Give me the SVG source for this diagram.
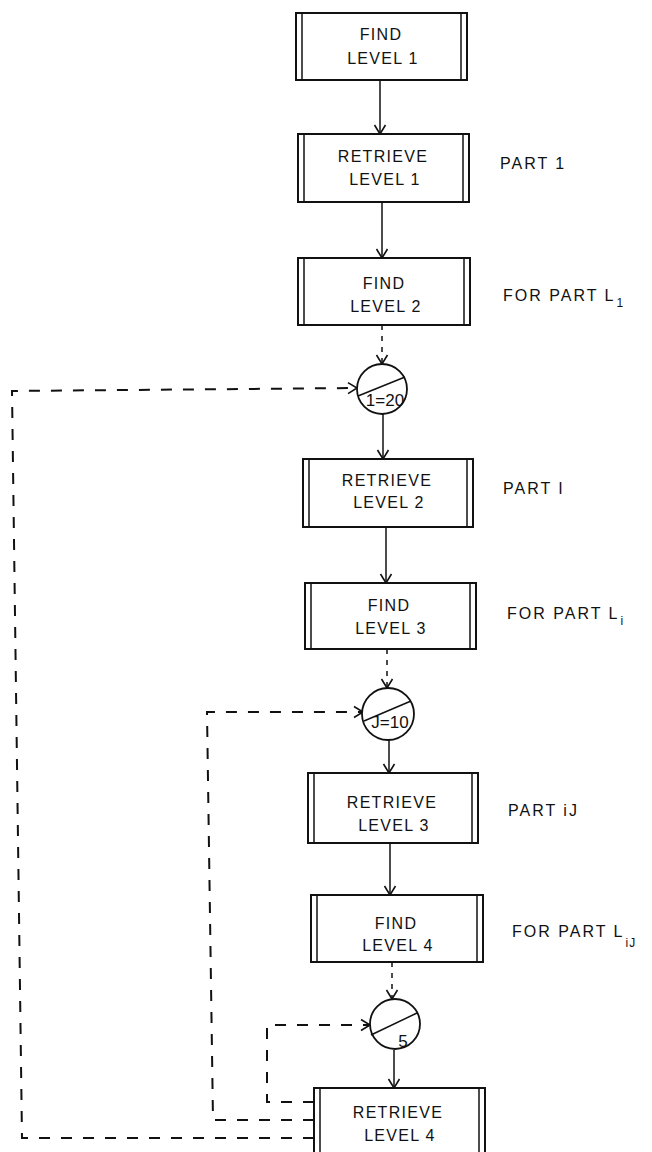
<svg xmlns="http://www.w3.org/2000/svg" width="652" height="1152" viewBox="0 0 652 1152">
<style>
.box{fill:#fff;stroke:#111;stroke-width:2}
.bar{stroke:#111;stroke-width:1.5}
.t{font-family:"Liberation Sans","DejaVu Sans",sans-serif;font-size:16px;letter-spacing:1.3px;fill:#111;text-anchor:middle}
.lbl{font-family:"Liberation Sans","DejaVu Sans",sans-serif;font-size:16px;letter-spacing:2px;fill:#111}
.sub{font-size:12px;letter-spacing:1px}
.circ{fill:#fff;stroke:#111;stroke-width:1.8}
.ct{font-family:"Liberation Sans","DejaVu Sans",sans-serif;font-size:17px;fill:#111;text-anchor:middle}
.solid{stroke:#111;stroke-width:1.5;fill:none}
.dshort{stroke:#111;stroke-width:1.5;fill:none;stroke-dasharray:5 6}
.dlong{stroke:#111;stroke-width:2;fill:none;stroke-dasharray:11 11}
</style>
<defs>
<marker id="arr" viewBox="-11 -7 13 14" refX="0" refY="0" markerWidth="13" markerHeight="14" markerUnits="userSpaceOnUse" orient="auto" overflow="visible">
<path d="M-9,-5.5 L0,0 L-9,5.5" fill="none" stroke="#111" stroke-width="1.6"/>
</marker>
</defs>
<rect width="652" height="1152" fill="#fff"/>

<g id="connectors">
<line class="solid" x1="380" y1="80" x2="380" y2="134" marker-end="url(#arr)"/>
<line class="solid" x1="382" y1="202" x2="382" y2="258" marker-end="url(#arr)"/>
<line class="dshort" x1="382" y1="325" x2="382" y2="364" marker-end="url(#arr)"/>
<line class="solid" x1="383" y1="414" x2="383" y2="459" marker-end="url(#arr)"/>
<line class="solid" x1="386" y1="527" x2="386" y2="583" marker-end="url(#arr)"/>
<line class="dshort" x1="387" y1="649" x2="387" y2="688" marker-end="url(#arr)"/>
<line class="solid" x1="389" y1="740" x2="389" y2="773" marker-end="url(#arr)"/>
<line class="solid" x1="390" y1="843" x2="390" y2="895" marker-end="url(#arr)"/>
<line class="dshort" x1="392" y1="962" x2="392" y2="999" marker-end="url(#arr)"/>
<line class="solid" x1="394" y1="1050" x2="394" y2="1088" marker-end="url(#arr)"/>
<polyline class="dlong" points="314,1138 22,1138 12,391 357,388" marker-end="url(#arr)"/>
<polyline class="dlong" points="314,1120 213,1120 207,712 363,712" marker-end="url(#arr)"/>
<polyline class="dlong" points="314,1102 267,1102 267,1025 370,1025" marker-end="url(#arr)"/>
</g>

<g id="find1">
<rect class="box" x="296" y="13" width="171" height="67"/>
<line class="bar" x1="302" y1="13" x2="302" y2="80"/><line class="bar" x1="461" y1="13" x2="461" y2="80"/>
<text class="t" x="381" y="40">FIND</text><text class="t" x="383" y="64">LEVEL 1</text>
</g>
<g id="retrieve1">
<rect class="box" x="298" y="134" width="171" height="68"/>
<line class="bar" x1="304" y1="134" x2="304" y2="202"/><line class="bar" x1="463" y1="134" x2="463" y2="202"/>
<text class="t" x="383" y="162">RETRIEVE</text><text class="t" x="385" y="185">LEVEL 1</text>
</g>
<g id="find2">
<rect class="box" x="298" y="258" width="172" height="67"/>
<line class="bar" x1="304" y1="258" x2="304" y2="325"/><line class="bar" x1="464" y1="258" x2="464" y2="325"/>
<text class="t" x="384" y="289">FIND</text><text class="t" x="386" y="312">LEVEL 2</text>
</g>
<g id="loop-i">
<circle class="circ" cx="382" cy="389" r="25"/>
<line class="solid" x1="358" y1="396" x2="405" y2="377"/>
<text class="ct" x="385" y="406">1=20</text>
</g>
<g id="retrieve2">
<rect class="box" x="303" y="459" width="170" height="68"/>
<line class="bar" x1="309" y1="459" x2="309" y2="527"/><line class="bar" x1="467" y1="459" x2="467" y2="527"/>
<text class="t" x="387" y="486">RETRIEVE</text><text class="t" x="389" y="508">LEVEL 2</text>
</g>
<g id="find3">
<rect class="box" x="305" y="583" width="171" height="66"/>
<line class="bar" x1="311" y1="583" x2="311" y2="649"/><line class="bar" x1="470" y1="583" x2="470" y2="649"/>
<text class="t" x="389" y="611">FIND</text><text class="t" x="391" y="634">LEVEL 3</text>
</g>
<g id="loop-j">
<circle class="circ" cx="388" cy="714" r="26"/>
<line class="solid" x1="364" y1="721" x2="411" y2="701"/>
<text class="ct" x="390" y="728">J=10</text>
</g>
<g id="retrieve3">
<rect class="box" x="308" y="773" width="170" height="70"/>
<line class="bar" x1="314" y1="773" x2="314" y2="843"/><line class="bar" x1="472" y1="773" x2="472" y2="843"/>
<text class="t" x="392" y="808">RETRIEVE</text><text class="t" x="394" y="831">LEVEL 3</text>
</g>
<g id="find4">
<rect class="box" x="311" y="895" width="172" height="67"/>
<line class="bar" x1="317" y1="895" x2="317" y2="962"/><line class="bar" x1="477" y1="895" x2="477" y2="962"/>
<text class="t" x="396" y="929">FIND</text><text class="t" x="398" y="951">LEVEL 4</text>
</g>
<g id="loop-5">
<circle class="circ" cx="395" cy="1024" r="25"/>
<line class="solid" x1="371" y1="1035" x2="417" y2="1013"/>
<text class="ct" x="403" y="1047">5</text>
</g>
<g id="retrieve4">
<rect class="box" x="314" y="1088" width="171" height="72"/>
<line class="bar" x1="320" y1="1088" x2="320" y2="1160"/><line class="bar" x1="479" y1="1088" x2="479" y2="1160"/>
<text class="t" x="398" y="1118">RETRIEVE</text><text class="t" x="400" y="1141">LEVEL 4</text>
</g>

<g id="labels">
<text class="lbl" x="500" y="169">PART 1</text>
<text class="lbl" x="503" y="301">FOR PART L<tspan class="sub" dx="1" dy="6">1</tspan></text>
<text class="lbl" x="503" y="494">PART I</text>
<text class="lbl" x="507" y="619">FOR PART L<tspan class="sub" dx="1" dy="6">i</tspan></text>
<text class="lbl" x="508" y="816">PART iJ</text>
<text class="lbl" x="512" y="937">FOR PART L<tspan class="sub" dx="1" dy="10">iJ</tspan></text>
</g>
</svg>
